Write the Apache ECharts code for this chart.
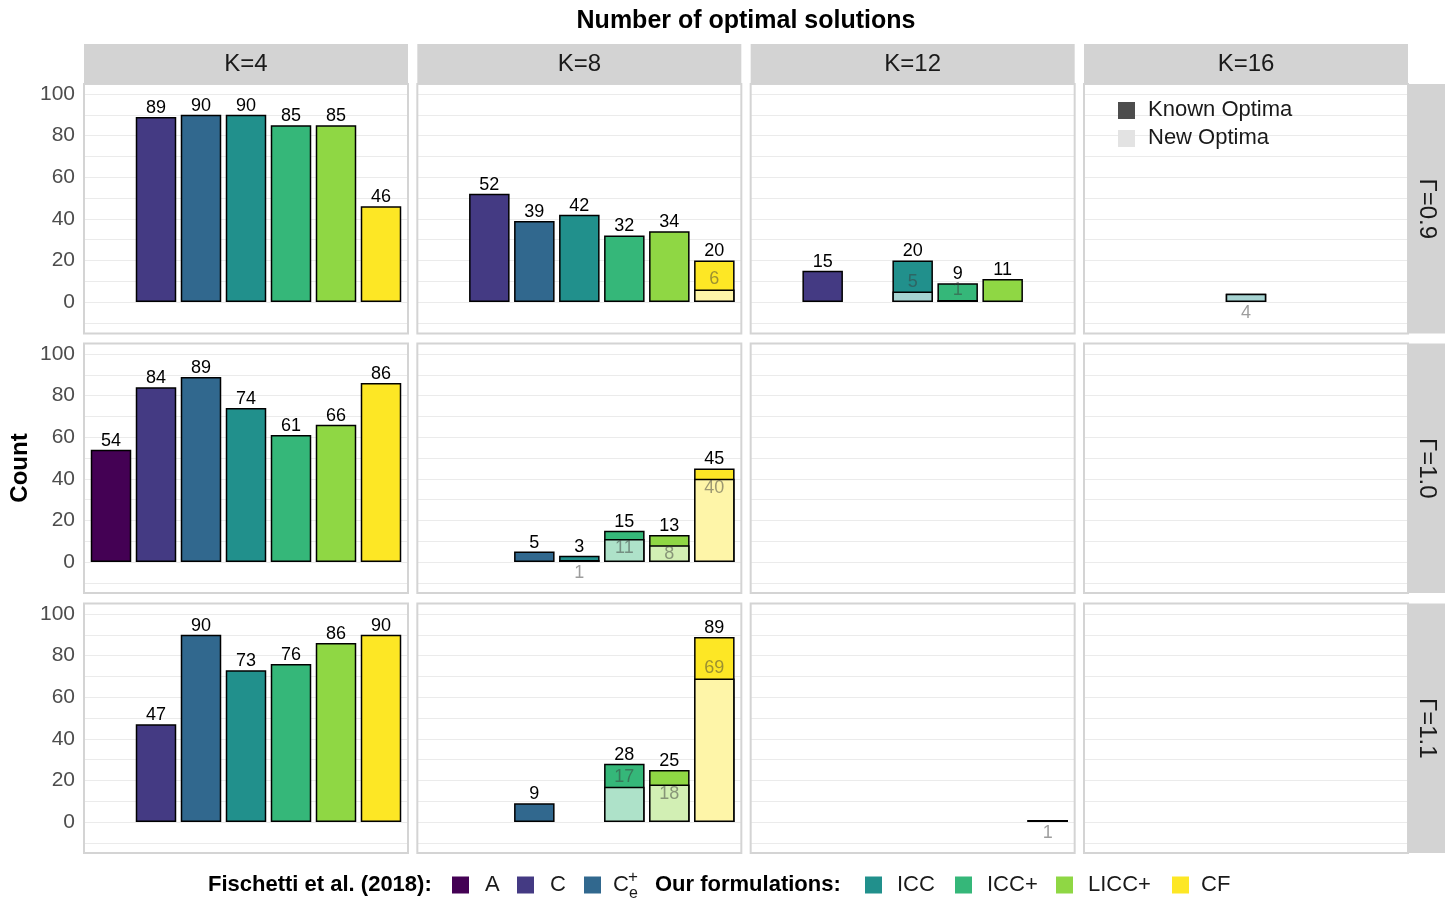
<!DOCTYPE html>
<html><head><meta charset="utf-8">
<script src="https://cdn.jsdelivr.net/npm/echarts@6/dist/echarts.min.js"></script>
<style>html,body{margin:0;padding:0;background:#fff}#chart{width:1452px;height:901px}</style>
</head><body><div id="chart"></div>
<script>
// ---------------- DATA ----------------
const categories = ['A', 'C', 'Ce+', 'ICC', 'ICC+', 'LICC+', 'CF'];
const kLabels = ['K=4', 'K=8', 'K=12', 'K=16'];
const gammaLabels = ['Γ=0.9', 'Γ=1.0', 'Γ=1.1'];
const yTicks = [0, 20, 40, 60, 80, 100];

// total optimal solutions: one row per K, one entry per category (null = no bar)
const totalG09 = [
  [null, 89, 90, 90, 85, 85, 46],
  [null, 52, 39, 42, 32, 34, 20],
  [null, 15, null, 20, 9, 11, null],
  [null, null, null, 4, null, null, null]
];
// of which new optima
const newG09 = [
  [0, 0, 0, 0, 0, 0, 0],
  [0, 0, 0, 0, 0, 0, 6],
  [0, 0, 0, 5, 1, 0, 0],
  [0, 0, 0, 4, 0, 0, 0]
];
const totalG10 = [
  [54, 84, 89, 74, 61, 66, 86],
  [null, null, 5, 3, 15, 13, 45],
  [null, null, null, null, null, null, null],
  [null, null, null, null, null, null, null]
];
const newG10 = [
  [0, 0, 0, 0, 0, 0, 0],
  [0, 0, 0, 1, 11, 8, 40],
  [0, 0, 0, 0, 0, 0, 0],
  [0, 0, 0, 0, 0, 0, 0]
];
const totalG11 = [
  [null, 47, 90, 73, 76, 86, 90],
  [null, null, 9, null, 28, 25, 89],
  [null, null, null, null, null, null, 1],
  [null, null, null, null, null, null, null]
];
const newG11 = [
  [0, 0, 0, 0, 0, 0, 0],
  [0, 0, 0, 0, 17, 18, 69],
  [0, 0, 0, 0, 0, 0, 1],
  [0, 0, 0, 0, 0, 0, 0]
];
const totals = [totalG09, totalG10, totalG11];
const newOpts = [newG09, newG10, newG11];

// ---------------- STYLE ----------------
const palette = ['#440154', '#443A83', '#31688E', '#21908C', '#35B779', '#8FD744', '#FDE725'];
const FONT = '"Liberation Sans", Arial, Helvetica, sans-serif';
function lighten(hex, a) {
  const r = parseInt(hex.slice(1, 3), 16), g = parseInt(hex.slice(3, 5), 16), b = parseInt(hex.slice(5, 7), 16);
  const f = v => Math.round(255 - a * (255 - v));
  return 'rgb(' + f(r) + ',' + f(g) + ',' + f(b) + ')';
}
const lightPalette = palette.map(c => lighten(c, 0.4));

const colX0 = [84, 417.33, 750.67, 1084];
const panelW = 324;
const rowY0 = [84, 343.5, 603.5];
const panelH = 249.5;
const pxPerUnit = 2.08;
const zeroOffs = [218, 218.5, 218.5];
const barW = 0.9 * panelW / 7.2;

const grids = [], xAxes = [], yAxes = [], series = [], graphics = [];

function lightLabelPos(total, nw) {
  const d = total - nw;
  if (d < 3) return { position: 'bottom', distance: 2 };
  if (d > 7) return { position: 'top', distance: 1 };
  return { position: 'insideTop', distance: 0 };
}

let idx = 0;
for (let r = 0; r < 3; r++) {
  for (let c = 0; c < 4; c++) {
    const x0 = colX0[c], y0 = rowY0[r];
    grids.push({ left: x0, top: y0 + zeroOffs[r] - 100 * pxPerUnit, width: panelW, height: 110 * pxPerUnit });
    xAxes.push({ type: 'value', gridIndex: idx, min: 0.4, max: 7.6, show: false });
    yAxes.push({
      type: 'value', gridIndex: idx, min: -10, max: 100, interval: 10,
      axisLine: { show: false }, axisTick: { show: false },
      splitLine: { show: true, lineStyle: { color: '#ebebeb', width: 1.2 } },
      axisLabel: {
        show: c === 0, margin: 9, color: '#4d4d4d', fontSize: 21, fontFamily: FONT,
        formatter: v => (yTicks.indexOf(v) >= 0 ? String(v) : '')
      }
    });
    const tot = totals[r][c], nw = newOpts[r][c];
    const darkData = [], lightData = [];
    for (let i = 0; i < categories.length; i++) {
      if (tot[i] === null) continue;
      darkData.push({
        value: [i + 1, tot[i]],
        itemStyle: { color: palette[i] },
        label: { show: tot[i] !== nw[i] }
      });
      if (nw[i] > 0) {
        const lp = lightLabelPos(tot[i], nw[i]);
        lightData.push({
          value: [i + 1, nw[i]],
          itemStyle: { color: lightPalette[i] },
          label: { show: true, position: lp.position, distance: lp.distance }
        });
      }
    }
    series.push({
      type: 'bar', xAxisIndex: idx, yAxisIndex: idx, data: darkData,
      barWidth: barW, barGap: '-100%',
      itemStyle: { borderColor: '#000', borderWidth: 1.5 },
      label: { show: true, position: 'top', distance: 0, color: '#000', fontSize: 18, fontFamily: FONT,
        formatter: p => p.value[1] }
    });
    series.push({
      type: 'bar', xAxisIndex: idx, yAxisIndex: idx, data: lightData,
      barWidth: barW, barGap: '-100%',
      itemStyle: { borderColor: '#000', borderWidth: 1.5 },
      label: { show: true, color: 'rgba(60,60,60,0.5)', fontSize: 18, fontFamily: FONT,
        formatter: p => p.value[1] }
    });
    // panel border
    graphics.push({ type: 'rect', z: 50, silent: true,
      shape: { x: x0, y: y0, width: panelW, height: panelH },
      style: { fill: 'none', stroke: '#d4d4d4', lineWidth: 2 } });
    idx++;
  }
}

// strips
for (let c = 0; c < 4; c++) {
  graphics.push({ type: 'rect', z: 60, shape: { x: colX0[c], y: 44, width: panelW, height: 40 }, style: { fill: '#d3d3d3' } });
  graphics.push({ type: 'text', z: 100, x: colX0[c] + panelW / 2, y: 64,
    style: { text: kLabels[c], font: '24px ' + FONT, fill: '#1a1a1a', textAlign: 'center', textVerticalAlign: 'middle' } });
}
for (let r = 0; r < 3; r++) {
  graphics.push({ type: 'rect', z: 60, shape: { x: 1408, y: rowY0[r], width: 37, height: panelH }, style: { fill: '#d3d3d3' } });
  graphics.push({ type: 'text', z: 100, x: 1426.5, y: rowY0[r] + panelH / 2, rotation: -Math.PI / 2,
    style: { text: gammaLabels[r], font: '24px ' + FONT, fill: '#1a1a1a', textAlign: 'center', textVerticalAlign: 'middle' } });
}

// title & axis title
graphics.push({ type: 'text', z: 100, x: 746, y: 21,
  style: { text: 'Number of optimal solutions', font: 'bold 25px ' + FONT, fill: '#000', textAlign: 'center', textVerticalAlign: 'middle' } });
graphics.push({ type: 'text', z: 100, x: 20, y: 468, rotation: Math.PI / 2,
  style: { text: 'Count', font: 'bold 24px ' + FONT, fill: '#000', textAlign: 'center', textVerticalAlign: 'middle' } });

// inner legend (Known / New optima)
graphics.push({ type: 'rect', z: 100, shape: { x: 1118, y: 102, width: 17, height: 17 }, style: { fill: '#4d4d4d' } });
graphics.push({ type: 'rect', z: 100, shape: { x: 1118, y: 130, width: 17, height: 17 }, style: { fill: '#e3e3e3' } });
graphics.push({ type: 'text', z: 100, x: 1148, y: 110,
  style: { text: 'Known Optima', font: '22px ' + FONT, fill: '#1a1a1a', textVerticalAlign: 'middle' } });
graphics.push({ type: 'text', z: 100, x: 1148, y: 138,
  style: { text: 'New Optima', font: '22px ' + FONT, fill: '#1a1a1a', textVerticalAlign: 'middle' } });

// bottom legend
const ly = 885;
graphics.push({ type: 'text', z: 100, x: 208, y: ly,
  style: { text: 'Fischetti et al. (2018):', font: 'bold 22px ' + FONT, fill: '#000', textVerticalAlign: 'middle' } });
graphics.push({ type: 'text', z: 100, x: 655, y: ly,
  style: { text: 'Our formulations:', font: 'bold 22px ' + FONT, fill: '#000', textVerticalAlign: 'middle' } });
const legRectX = [452, 517, 584, 865, 955, 1056, 1172];
const legTextX = [485, 550, 613, 897, 987, 1088, 1201];
const legText = ['A', 'C', 'C', 'ICC', 'ICC+', 'LICC+', 'CF'];
for (let i = 0; i < 7; i++) {
  graphics.push({ type: 'rect', z: 100, shape: { x: legRectX[i], y: ly - 8.5, width: 17, height: 17 }, style: { fill: palette[i] } });
  graphics.push({ type: 'text', z: 100, x: legTextX[i], y: ly,
    style: { text: legText[i], font: '22px ' + FONT, fill: '#1a1a1a', textVerticalAlign: 'middle' } });
}
graphics.push({ type: 'text', z: 100, x: 628, y: ly - 8,
  style: { text: '+', font: '17px ' + FONT, fill: '#1a1a1a', textVerticalAlign: 'middle' } });
graphics.push({ type: 'text', z: 100, x: 629, y: ly + 9,
  style: { text: 'e', font: '16px ' + FONT, fill: '#1a1a1a', textVerticalAlign: 'middle' } });

const chart = echarts.init(document.getElementById('chart'));
chart.setOption({
  animation: false,
  backgroundColor: '#fff',
  grid: grids, xAxis: xAxes, yAxis: yAxes, series: series,
  graphic: { elements: graphics }
});
</script></body></html>
